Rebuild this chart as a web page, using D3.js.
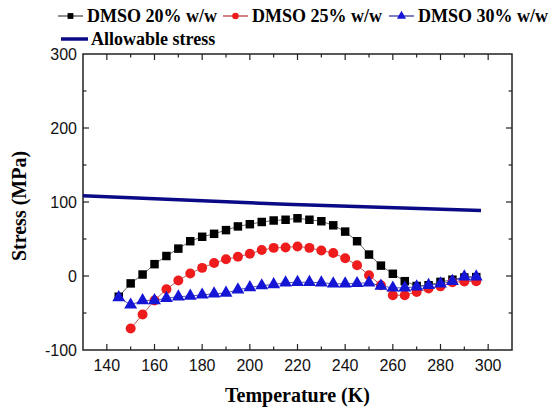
<!DOCTYPE html>
<html>
<head>
<meta charset="utf-8">
<script src="https://cdn.jsdelivr.net/npm/d3@7"></script>
<style>
  html, body { margin: 0; padding: 0; background: #fff; }
  svg { display: block; }
</style>
</head>
<body>
<svg id="chart" width="555" height="410"></svg>
<script>
// Temperature steps (K) shared by the three DMSO series
const temperatures = [145,150,155,160,165,170,175,180,185,190,195,200,205,210,215,220,
                      225,230,235,240,245,250,255,260,265,270,275,280,285,290,295];
// Stress values (MPa)
const dmso20 = [-28,-10,2,16,27,37,47,53,57,62,67,70,73,75,76,78,
                76,74,68.5,60,47,29,14,3,-7,-13.5,-12.5,-8,-5,-2,-1.5];
const dmso25 = [null,-71,-52,-33,-18,-6,3.5,11,17.5,22.5,26,30,35,38,38.5,40,
                38,34.5,31,24,14.5,1,-12.5,-26,-26,-21.5,-17,-14,-8.5,-7.5,-7];
const dmso30 = [-29,-39,-33,-33,-30,-28,-27,-25.5,-24,-23,-18.5,-15.5,-13,-11.5,-9,-8.5,
                -8.5,-9,-10.5,-10.5,-10,-9,-13.5,-16,-16,-14.5,-12.5,-10.5,-7,-1,-1];
// Allowable stress curve
const allowT = [130, 215, 297];
const allowS = [108.5, 97, 88.5];

const xTicks = [140,160,180,200,220,240,260,280,300];
const yTicks = [-100,0,100,200,300];

const svg = d3.select("#chart");
const m = {left: 83, right: 512, top: 54, bottom: 350};

const x = d3.scaleLinear().domain([130, 310]).range([m.left, m.right]);
const y = d3.scaleLinear().domain([-100, 300]).range([m.bottom, m.top]);

const axisColor = "#222";

// frame
svg.append("rect")
  .attr("x", m.left).attr("y", m.top)
  .attr("width", m.right - m.left).attr("height", m.bottom - m.top)
  .attr("fill", "none").attr("stroke", axisColor).attr("stroke-width", 1.5);

// ticks (inward, mirrored on top and right)
const xMinor = d3.range(130, 311, 10);
const yMinor = d3.range(-100, 301, 50);
const tickG = svg.append("g").attr("stroke", axisColor).attr("stroke-width", 1.2);
xMinor.forEach(t => {
  if (t <= 130 || t >= 310) return;
  const len = (t % 20 === 0) ? 6 : 3.5;
  tickG.append("line").attr("x1", x(t)).attr("x2", x(t)).attr("y1", m.bottom).attr("y2", m.bottom - len);
  tickG.append("line").attr("x1", x(t)).attr("x2", x(t)).attr("y1", m.top).attr("y2", m.top + len);
});
yMinor.forEach(v => {
  if (v <= -100 || v >= 300) return;
  const len = (v % 100 === 0) ? 6 : 3.5;
  tickG.append("line").attr("y1", y(v)).attr("y2", y(v)).attr("x1", m.left).attr("x2", m.left + len);
  tickG.append("line").attr("y1", y(v)).attr("y2", y(v)).attr("x1", m.right).attr("x2", m.right - len);
});

// tick labels
const labelFont = "'Liberation Sans', Arial, sans-serif";
svg.append("g").selectAll("text").data(xTicks).join("text")
  .attr("x", d => x(d)).attr("y", 371)
  .attr("text-anchor", "middle")
  .attr("font-family", labelFont).attr("font-size", 16).attr("fill", "#111")
  .text(d => d);
svg.append("g").selectAll("text").data(yTicks).join("text")
  .attr("x", 77).attr("y", d => y(d) + 6)
  .attr("text-anchor", "end")
  .attr("font-family", labelFont).attr("font-size", 16).attr("fill", "#111")
  .text(d => d);

// axis titles
const titleFont = "'Liberation Serif', 'Times New Roman', serif";
svg.append("text")
  .attr("x", (m.left + m.right) / 2).attr("y", 402)
  .attr("text-anchor", "middle")
  .attr("font-family", titleFont).attr("font-weight", "bold").attr("font-size", 20)
  .text("Temperature (K)");
svg.append("text")
  .attr("transform", `translate(26,${(m.top + m.bottom) / 2 + 4}) rotate(-90)`)
  .attr("text-anchor", "middle")
  .attr("font-family", titleFont).attr("font-weight", "bold").attr("font-size", 20)
  .text("Stress (MPa)");

// allowable stress line
const allowData = allowT.map((t, i) => [t, allowS[i]]);
svg.append("path")
  .datum(allowData)
  .attr("d", d3.line().x(d => x(d[0])).y(d => y(d[1])))
  .attr("fill", "none").attr("stroke", "#0a0a86").attr("stroke-width", 3.5);

// series
const series = [
  {name: "DMSO 20% w/w", values: dmso20, color: "#000000", line: "#444", shape: "square"},
  {name: "DMSO 25% w/w", values: dmso25, color: "#ee1c1c", line: "#a33", shape: "circle"},
  {name: "DMSO 30% w/w", values: dmso30, color: "#1515d6", line: "#2a2aa0", shape: "triangle"}
];

const symbolFor = (shape, size) => {
  if (shape === "square") return d3.symbol(d3.symbolSquare, size)();
  if (shape === "circle") return d3.symbol(d3.symbolCircle, size)();
  return d3.symbol(d3.symbolTriangle, size)();
};

series.forEach(s => {
  const pts = temperatures.map((t, i) => [t, s.values[i]]).filter(d => d[1] !== null);
  svg.append("path")
    .datum(pts)
    .attr("d", d3.line().x(d => x(d[0])).y(d => y(d[1])))
    .attr("fill", "none").attr("stroke", s.line).attr("stroke-width", 0.8);
  svg.append("g").selectAll("path").data(pts).join("path")
    .attr("transform", d => `translate(${x(d[0])},${y(d[1])})`)
    .attr("d", symbolFor(s.shape, s.shape === "square" ? 72 : s.shape === "circle" ? 78 : 72))
    .attr("fill", s.color);
});

// legend
const legFont = 18;
const legendItems = [
  {s: series[0], x0: 58, row: 0},
  {s: series[1], x0: 223, row: 0},
  {s: series[2], x0: 389, row: 0}
];
const rowY = [16, 39];
legendItems.forEach(it => {
  const g = svg.append("g");
  const cy = rowY[it.row];
  g.append("line").attr("x1", it.x0).attr("x2", it.x0 + 25).attr("y1", cy).attr("y2", cy)
    .attr("stroke", it.s.line).attr("stroke-width", 1.2);
  g.append("path").attr("transform", `translate(${it.x0 + 12.5},${cy})`)
    .attr("d", symbolFor(it.s.shape, it.s.shape === "triangle" ? 36 : 34))
    .attr("fill", it.s.color);
  g.append("text").attr("x", it.x0 + 29).attr("y", cy + 6)
    .attr("font-family", titleFont).attr("font-weight", "bold").attr("font-size", legFont)
    .text(it.s.name);
});
{
  const cy = rowY[1];
  svg.append("line").attr("x1", 61).attr("x2", 88).attr("y1", cy).attr("y2", cy)
    .attr("stroke", "#0a0a86").attr("stroke-width", 3.5);
  svg.append("text").attr("x", 91).attr("y", cy + 6)
    .attr("font-family", titleFont).attr("font-weight", "bold").attr("font-size", legFont)
    .text("Allowable stress");
}
</script>
</body>
</html>
